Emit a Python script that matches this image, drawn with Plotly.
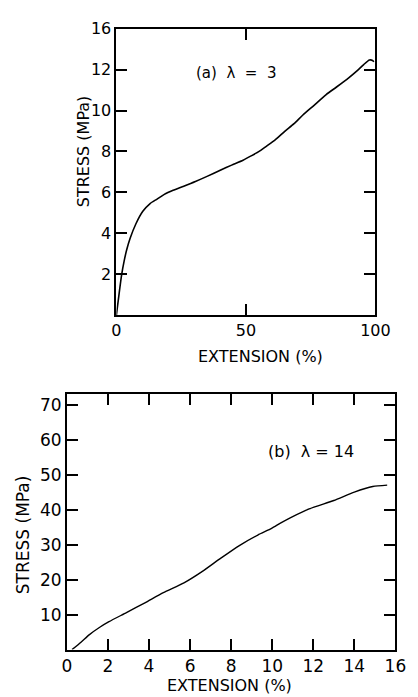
import plotly.graph_objects as go

# ---- data (a) lambda = 3 ----
ext_a = [0, 1.0, 2.0, 3.0, 4.0, 5.3, 7.5, 10.2, 13, 15.7, 18.5, 21.9, 26, 30.5, 35, 40.3, 44.5, 48.9, 52, 55.1, 58,
         61.3, 65, 68.6, 72, 76, 81, 85, 89.7, 93, 95.5, 97.7, 98.9, 99.4]
stress_a = [0, 1.0, 1.95, 2.65, 3.2, 3.75, 4.45, 5.07, 5.45, 5.67, 5.9, 6.1, 6.3, 6.53, 6.78, 7.09, 7.33, 7.57, 7.78, 8.0, 8.26,
            8.56, 8.98, 9.36, 9.78, 10.22, 10.78, 11.15, 11.6, 11.95, 12.25, 12.47, 12.45, 12.38]

# ---- data (b) lambda = 14 ----
ext_b = [0.25, 0.7, 1.1, 1.6, 2.05, 2.9, 3.8, 4.7, 5.7, 6.6, 7.5, 8.4, 9.3, 9.97, 10.4, 10.9, 11.8, 13.0, 14.0, 14.9, 15.6]
stress_b = [0, 2.2, 4.3, 6.4, 8.0, 10.6, 13.4, 16.3, 19.1, 22.4, 26.2, 29.8, 32.8, 34.7, 36.2, 37.8, 40.3, 42.7, 45.1, 46.7, 47.1]

# tick labels
xt_a_vals = [0, 50, 100]
xt_a_text = ["0", "50", "100"]
yt_a_vals = [2, 4, 6, 8, 10, 12, 14]
yt_a_text = ["2", "4", "6", "8", "10", "12", "16"]
xt_b_vals = [0, 2, 4, 6, 8, 10, 12, 14, 16]
xt_b_text = ["0", "2", "4", "6", "8", "10", "12", "14", "16"]
yt_b_vals = [10, 20, 30, 40, 50, 60, 70]
yt_b_text = ["10", "20", "30", "40", "50", "60", "70"]

W, H = 418, 697
FONT = "DejaVu Sans"

def px(x):
    return x / W

def py(y):
    return 1 - y / H

fig = go.Figure()
fig.add_trace(go.Scatter(x=ext_a, y=stress_a, mode="lines", line=dict(color="black", width=1.6, shape="spline", smoothing=0.6),
                         xaxis="x", yaxis="y", showlegend=False))
fig.add_trace(go.Scatter(x=ext_b, y=stress_b, mode="lines", line=dict(color="black", width=1.4, shape="spline", smoothing=0.6),
                         xaxis="x2", yaxis="y2", showlegend=False))

def axis_common(size):
    return dict(showline=True, linecolor="black", linewidth=1.8, mirror="ticks", ticks="inside",
                ticklen=11, tickwidth=1.6, tickcolor="black", showgrid=False, zeroline=False,
                tickfont=dict(family=FONT, size=size, color="black"))

fig.update_layout(
    width=W, height=H,
    margin=dict(l=0, r=0, t=0, b=0),
    paper_bgcolor="white", plot_bgcolor="white",
    xaxis=dict(domain=[px(117), px(389)], range=[0, 100], tickmode="array", tickvals=xt_a_vals, ticktext=xt_a_text,
               anchor="y", **axis_common(16)),
    yaxis=dict(domain=[py(310), py(20)], range=[0, 14], tickmode="array", tickvals=yt_a_vals, ticktext=yt_a_text,
               anchor="x", **axis_common(16)),
    xaxis2=dict(domain=[px(65), px(410)], range=[0, 16], tickmode="array", tickvals=xt_b_vals, ticktext=xt_b_text,
                anchor="y2", **axis_common(17)),
    yaxis2=dict(domain=[py(649), py(390)], range=[0, 73.2], tickmode="array", tickvals=yt_b_vals, ticktext=yt_b_text,
                anchor="x2", **axis_common(17)),
)

def label(xp, yp, text, size, angle=0):
    fig.add_annotation(x=px(xp), y=py(yp), xref="paper", yref="paper", text=text, showarrow=False,
                       xanchor="center", yanchor="middle", textangle=angle,
                       font=dict(family=FONT, size=size, color="black"))

label(243, 65, "(a)  λ  =  3", 15)
label(321, 448, "(b)  λ = 14", 16)
label(268, 352, "EXTENSION (%)", 16)
label(236, 685, "EXTENSION (%)", 16)
label(82, 144, "STRESS (MPa)", 16, -90)
label(19, 533, "STRESS (MPa)", 17, -90)

post = """
document.body.style.margin='0';document.body.style.padding='0';
document.body.style.overflow='hidden';document.documentElement.style.overflow='hidden';
"""
fig.write_html("out.html", config={"displayModeBar": False}, post_script=post)
